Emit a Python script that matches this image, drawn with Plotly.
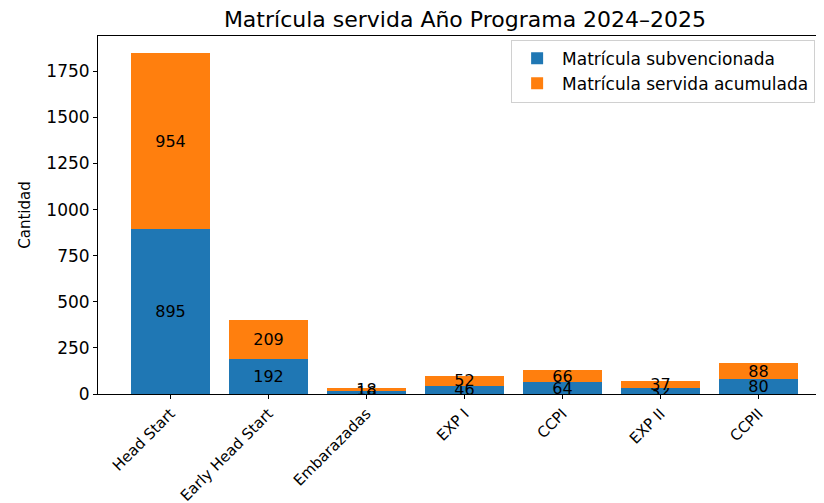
import plotly.graph_objects as go

categories = ["Head Start", "Early Head Start", "Embarazadas", "EXP I", "CCPI", "EXP II", "CCPII"]
subvencionada = [895, 192, 16, 46, 64, 32, 80]
acumulada = [954, 209, 18, 52, 66, 37, 88]
y_ticks = [0, 250, 500, 750, 1000, 1250, 1500, 1750]

totals = [a + b for a, b in zip(subvencionada, acumulada)]
ymax = max(totals) * 1.05
xs = list(range(len(categories)))

font = "DejaVu Sans"
LBL = 16
fig = go.Figure()
fig.add_trace(go.Bar(
    x=xs, y=subvencionada, name="Matrícula subvencionada",
    marker=dict(color="#1f77b4", line=dict(width=0)), width=0.8,
    text=[str(v) for v in subvencionada], textposition="inside",
    insidetextanchor="middle", textangle=0,
    insidetextfont=dict(color="black", size=LBL, family=font),
))
fig.add_trace(go.Bar(
    x=xs, y=acumulada, name="Matrícula servida acumulada",
    marker=dict(color="#ff7f0e", line=dict(width=0)), width=0.8,
    text=[str(v) for v in acumulada], textposition="inside",
    insidetextanchor="middle", textangle=0,
    insidetextfont=dict(color="black", size=LBL, family=font),
))

fig.update_layout(
    barmode="stack",
    width=824, height=503,
    margin=dict(l=90, r=0, t=28, b=117),
    paper_bgcolor="white", plot_bgcolor="white",
    font=dict(family=font, size=LBL, color="black"),
    uniformtext=dict(minsize=LBL, mode="show"),
    title=dict(text="Matrícula servida Año Programa 2024–2025", x=0.5, xanchor="center",
               xref="paper", y=1 - 11 / 503, yanchor="middle", font=dict(size=22, family=font)),
    legend=dict(x=0.977, y=0.99, xanchor="right", yanchor="top",
                bgcolor="rgba(255,255,255,0.8)", bordercolor="#d0d0d0", borderwidth=1,
                font=dict(size=17, family=font), traceorder="normal",
                itemwidth=40, tracegroupgap=0),
    showlegend=True,
)
fig.update_xaxes(
    range=[-0.74, 6.75], tickvals=xs, ticktext=categories, tickangle=-45,
    showgrid=False, zeroline=False, showline=True, linecolor="black", linewidth=1,
    ticks="outside", ticklen=4, tickcolor="black", mirror=True, automargin=False,
    tickfont=dict(size=15, family=font),
)
fig.update_yaxes(
    range=[0, ymax], tickvals=y_ticks, showgrid=False, zeroline=False,
    showline=True, linecolor="black", linewidth=1, mirror=True, automargin=False,
    ticks="outside", ticklen=4, tickcolor="black",
    title=dict(text="Cantidad", font=dict(size=15, family=font), standoff=12),
    tickfont=dict(size=17, family=font),
)
fig.write_html("out.html")
